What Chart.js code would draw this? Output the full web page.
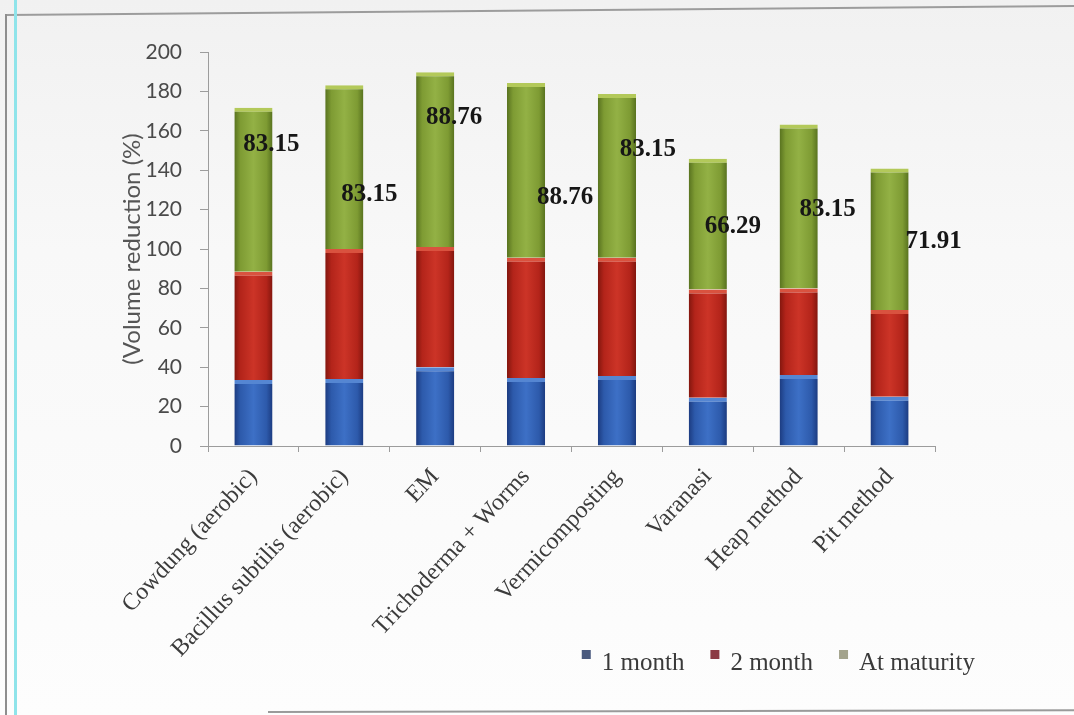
<!DOCTYPE html>
<html>
<head>
<meta charset="utf-8">
<script src="https://cdn.jsdelivr.net/npm/chart.js@4.4.1/dist/chart.umd.min.js"></script>
<style>
  html, body { margin: 0; padding: 0; }
  body {
    width: 1074px; height: 715px; overflow: hidden; position: relative;
    background: linear-gradient(180deg, #f1f1f1 0%, #f8f8f8 35%, #fdfdfd 100%);
  }
  #chartBox { position: absolute; left: 0; top: 0; width: 1074px; height: 715px; }
  .rule { position: absolute; pointer-events: none; }
  .rule.top { left: 6px; top: 14px; width: 1072px; height: 2px; background: #9c9c9c; transform-origin: 0 0; transform: rotate(-0.48deg); }
  .rule.left { left: 5px; top: 14px; width: 2px; height: 701px; background: #8e8e8e; }
  .rule.edge { left: 14px; top: 0; width: 3px; height: 715px; background: #8fe4ea; }
  .rule.bottom { left: 268px; top: 711px; width: 806px; height: 2px; background: #9a9a9a; transform-origin: 0 0; transform: rotate(-0.12deg); }
</style>
</head>
<body>
<div id="chartBox"><canvas id="chart" width="1074" height="715"></canvas></div>
<div class="rule top"></div>
<div class="rule left"></div>
<div class="rule edge"></div>
<div class="rule bottom"></div>
<script>
// Composting methods and cumulative volume reduction at each stage
const categories = ['Cowdung (aerobic)', 'Bacillus subtilis (aerobic)', 'EM', 'Trichoderma + Worms',
                    'Vermicomposting', 'Varanasi', 'Heap method', 'Pit method'];
const seriesNames = ['1 month', '2 month', 'At maturity'];
const oneMonth   = [33.5, 34, 40, 34.5, 35.5, 24.5, 36, 25];
const twoMonth   = [55, 66, 61, 61, 60, 55, 44, 44];
const atMaturity = [83.15, 83.15, 88.76, 88.76, 83.15, 66.29, 83.15, 71.91];
const yTicks = [0, 20, 40, 60, 80, 100, 120, 140, 160, 180, 200];

// where each "At maturity" value label sits: height on the y scale, and shift right of the bar centre (px)
const labelHeight = [152.8, 127.4, 166.5, 125.9, 150.3, 111.2, 119.8, 103.6];
const labelShift  = [18, 25, 19, 39, 31, 25, 29, 44];

const BAR_FRACTION = 0.42;

// edge / body / centre shades for a bevelled bar look
const shades = [
  { stops: ['#1c3b80', '#2d5aab', '#3d70c6'], top: '#5586d2', swatch: '#4a5a7e' },
  { stops: ['#82160e', '#b3241a', '#cc3427'], top: '#d9523f', swatch: '#8c3a44' },
  { stops: ['#58721f', '#7e9b33', '#93b145'], top: '#b3c95a', swatch: '#a3a38c' }
];

function bevelFill(shade) {
  return (c) => {
    const chart = c.chart;
    const area = chart.chartArea;
    const xs = chart.scales && chart.scales.x;
    if (!area || !xs || c.type !== 'data') return shade.stops[1];
    const cx = xs.getPixelForValue(c.dataIndex);
    const half = (area.right - area.left) / categories.length * BAR_FRACTION / 2;
    const g = chart.ctx.createLinearGradient(cx - half, 0, cx + half, 0);
    g.addColorStop(0, shade.stops[0]);
    g.addColorStop(0.16, shade.stops[1]);
    g.addColorStop(0.5, shade.stops[2]);
    g.addColorStop(0.84, shade.stops[1]);
    g.addColorStop(1, shade.stops[0]);
    return g;
  };
}

const seriesValues = [oneMonth, twoMonth, atMaturity];
const datasets = seriesValues.map((vals, i) => ({
  label: seriesNames[i],
  data: vals,
  backgroundColor: bevelFill(shades[i]),
  borderColor: shades[i].top,
  borderWidth: { top: 4, left: 0, right: 0, bottom: 0 },
  borderSkipped: false,
  barPercentage: BAR_FRACTION,
  categoryPercentage: 1.0
}));

// value labels written on the "At maturity" segments
const maturityLabels = {
  id: 'maturityLabels',
  afterDatasetsDraw(chart) {
    const { ctx } = chart;
    const y = chart.scales.y;
    const meta = chart.getDatasetMeta(2);
    ctx.save();
    ctx.font = 'bold 25px "Liberation Serif"';
    ctx.fillStyle = '#161616';
    ctx.textAlign = 'center';
    ctx.textBaseline = 'middle';
    meta.data.forEach((bar, i) => {
      ctx.fillText(atMaturity[i].toFixed(2), bar.x + labelShift[i], y.getPixelForValue(labelHeight[i]));
    });
    ctx.restore();
  }
};

// legend row under the plot, right-aligned a little past the plot edge
const bottomLegend = {
  id: 'bottomLegend',
  afterDraw(chart) {
    const { ctx, chartArea } = chart;
    ctx.save();
    ctx.font = '25px "Liberation Serif"';
    ctx.textBaseline = 'middle';
    const box = 9, gap = 20, spacing = 26;
    const widths = chart.data.datasets.map(ds => ctx.measureText(ds.label).width);
    const total = widths.reduce((a, w) => a + gap + w, 0) + spacing * (widths.length - 1);
    let x = chartArea.right + 40 - total;
    const mid = 663;
    chart.data.datasets.forEach((ds, i) => {
      ctx.fillStyle = shades[i].swatch;
      ctx.fillRect(x, mid - 13, box, box);
      ctx.fillStyle = '#3a3a3a';
      ctx.fillText(ds.label, x + gap, mid);
      x += gap + widths[i] + spacing;
    });
    ctx.restore();
  }
};

new Chart(document.getElementById('chart'), {
  type: 'bar',
  data: { labels: categories, datasets },
  plugins: [maturityLabels, bottomLegend],
  options: {
    responsive: false,
    maintainAspectRatio: false,
    animation: false,
    layout: { padding: { left: 110, right: 139, top: 52, bottom: 0 } },
    plugins: {
      legend: { display: false },
      tooltip: { enabled: false }
    },
    scales: {
      x: {
        stacked: true,
        afterFit: (s) => { s.height = 269; },
        grid: { display: true, drawOnChartArea: false, offset: true, tickLength: 6, color: '#9c9c9c' },
        border: { color: '#9c9c9c', width: 1 },
        ticks: {
          minRotation: 47, maxRotation: 47, autoSkip: false, padding: 11,
          color: '#3c3c3c', font: { family: 'Liberation Serif', size: 24 }
        }
      },
      y: {
        stacked: true,
        min: 0, max: 200,
        afterBuildTicks: (s) => { s.ticks = yTicks.map(v => ({ value: v })); },
        afterFit: (s) => { s.width = 98; },
        grid: { display: true, drawOnChartArea: false, tickLength: 8, color: '#9c9c9c' },
        border: { color: '#9c9c9c', width: 1 },
        ticks: { padding: 18, color: '#4a4a4a', font: { family: 'Lato', size: 21 } },
        title: {
          display: true, text: '(Volume reduction (%)', color: '#555555',
          font: { family: 'Lato', size: 24 }, padding: { top: 8, bottom: 0 }
        }
      }
    }
  }
});
</script>
</body>
</html>
